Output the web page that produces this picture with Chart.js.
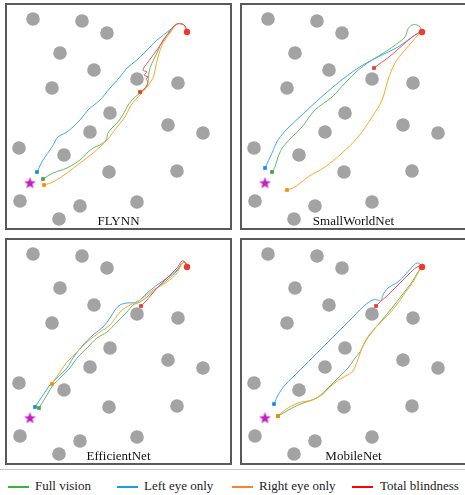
<!DOCTYPE html>
<html>
<head>
<meta charset="utf-8">
<script src="https://cdn.jsdelivr.net/npm/chart.js@4"></script>
<style>
  body { margin:0; background:#fff; width:465px; height:495px; overflow:hidden; position:relative; }
  .frame { position:absolute; width:223px; height:223px; border:2px solid #5a5a5a; }
  .frame canvas { display:block; }
  .sep { position:absolute; left:0; top:469px; width:465px; height:1px; background:#c8c8c8; }
  .lg { position:absolute; top:478px; font:13px/16px "Liberation Serif", serif; color:#222; white-space:nowrap; }
  .lg i { position:absolute; top:8px; height:1.5px; }
</style>
</head>
<body>
<div class="frame" style="left:5px;top:3px"><canvas id="p0" width="223" height="223"></canvas></div>
<div class="frame" style="left:240px;top:3px"><canvas id="p1" width="223" height="223"></canvas></div>
<div class="frame" style="left:5px;top:238px"><canvas id="p2" width="223" height="223"></canvas></div>
<div class="frame" style="left:240px;top:238px"><canvas id="p3" width="223" height="223"></canvas></div>
<div class="sep"></div>
<div id="legend"></div>
<script>
// ---- data (arena units, y grows downward) ----
const models = ['FLYNN', 'SmallWorldNet', 'EfficientNet', 'MobileNet'];
const conditions = ['Full vision', 'Left eye only', 'Right eye only', 'Total blindness'];

const obstacleX = [27, 76, 101, 54, 88, 46, 131, 172, 104, 162, 197, 84, 13, 58, 103, 171, 14, 74, 131, 53];
const obstacleY = [15, 17, 29, 49, 66, 84, 75, 79, 109, 121, 129, 128, 144, 151, 168, 167, 197, 202, 198, 215];
const startPos = [181, 28];
const goalPos = [24, 179];

const flynnFull = [[181,28],[179,22],[176,20],[171,20],[164,28],[157,36],[151,49],[146,59],[143,68],[142,78],[139,85],[134,89],[126,96],[121,103],[118,109],[112,118],[106,124],[102,129],[100,136],[94,141],[87,144],[81,149],[74,156],[61,164],[47,169],[37,175]];
const flynnLeft = [[181,28],[179,22],[176,20],[171,20],[164,26],[151,36],[141,46],[131,56],[121,64],[114,73],[104,84],[94,96],[82,106],[74,116],[61,128],[52,133],[46,143],[37,156],[31,168]];
const flynnRight = [[181,28],[179,22],[176,20],[171,20],[164,29],[157,39],[152,53],[149,66],[147,74],[141,83],[131,94],[124,103],[119,113],[111,123],[101,136],[87,149],[74,159],[61,169],[47,178],[38,181]];
const flynnBlind = [[181,28],[179,22],[176,20],[171,20],[167,23],[161,31],[151,46],[142,58],[137,66],[141,68],[138,71],[142,73],[140,75],[142,78],[139,84],[134,88]];

const swnFull = [[181,28],[179,23],[176,21],[171,21],[167,25],[164,33],[157,39],[144,48],[131,56],[121,63],[114,69],[104,79],[91,93],[74,106],[61,123],[51,133],[42,143],[37,153],[34,163],[31,168]];
const swnLeft = [[181,28],[177,29],[167,36],[157,43],[137,53],[117,64],[97,79],[77,96],[61,111],[47,124],[37,136],[31,149],[24,164]];
const swnRight = [[181,28],[177,31],[171,38],[164,46],[154,59],[147,76],[141,96],[131,113],[117,133],[101,149],[84,163],[67,173],[54,183],[46,186]];
const swnBlind = [[181,28],[174,31],[164,39],[154,48],[144,56],[137,61],[133,64]];

const effFull = [[181,28],[180,24],[177,23],[171,32],[161,41],[151,49],[141,58],[134,63],[127,66],[121,73],[111,83],[101,93],[91,99],[81,109],[71,119],[64,129],[54,139],[47,146],[41,156],[33,169]];
const effLeft = [[181,28],[180,24],[177,23],[171,31],[161,39],[151,46],[141,54],[131,63],[121,64],[114,66],[109,71],[104,79],[97,88],[87,96],[77,106],[67,119],[61,129],[51,139],[44,146],[37,156],[29,168]];
const effRight = [[181,28],[180,24],[177,23],[171,34],[161,43],[147,51],[134,61],[124,66],[114,73],[104,86],[94,93],[81,103],[71,113],[61,123],[54,133],[47,143],[46,145]];
const effBlind = [[181,28],[179,23],[176,22],[171,29],[161,39],[151,49],[141,61],[135,67]];

const mobFull = [[181,28],[177,33],[171,43],[161,56],[151,69],[141,81],[131,93],[124,103],[119,113],[114,119],[107,129],[97,139],[87,149],[77,158],[71,161],[57,166],[44,173],[37,177]];
const mobLeft = [[181,28],[179,25],[176,24],[171,28],[164,36],[157,43],[147,49],[142,56],[140,62],[137,61],[132,61],[124,66],[114,76],[104,86],[94,96],[84,106],[74,116],[61,129],[51,139],[44,146],[37,156],[33,165]];
const mobRight = [[181,28],[177,34],[172,43],[164,54],[154,68],[144,79],[134,89],[126,99],[121,109],[116,123],[111,133],[101,139],[91,146],[81,156],[71,161],[57,164],[44,171],[37,177]];
const mobBlind = [[181,28],[176,28],[167,36],[157,46],[147,56],[139,63],[135,67]];

const paths = [
  [flynnFull, flynnLeft, flynnRight, flynnBlind],
  [swnFull, swnLeft, swnRight, swnBlind],
  [effFull, effLeft, effRight, effBlind],
  [mobFull, mobLeft, mobRight, mobBlind]
];

// ---- styles ----
const lineCol = ['#66bb6a', '#42a5f5', '#ffa726', '#ef5350'];
const markCol = ['#43a047', '#1e88e5', '#fb8c00', '#e53935'];
const legendCol = ['#3cb43c', '#1e9be6', '#ff7f2a', '#ff0000'];

// filled star marker for the goal
const star = document.createElement('canvas');
star.width = star.height = 13;
(() => {
  const x = star.getContext('2d');
  x.fillStyle = '#c41ec4';
  x.beginPath();
  for (let i = 0; i < 10; i++) {
    const r = i % 2 ? 2.6 : 6.2, a = -Math.PI / 2 + i * Math.PI / 5;
    x.lineTo(6.5 + r * Math.cos(a), 6.8 + r * Math.sin(a));
  }
  x.closePath(); x.fill();
})();

const xy = arr => arr.map(([x, y]) => ({x, y}));

const nameLabel = {
  id: 'nameLabel',
  afterDatasetsDraw(chart, args, opts) {
    const {ctx, chartArea: a} = chart;
    ctx.save();
    ctx.font = '13px "Liberation Serif", serif';
    ctx.fillStyle = '#111';
    ctx.textAlign = 'center'; ctx.textBaseline = 'alphabetic';
    ctx.fillText(opts.text, (a.left + a.right) / 2, a.bottom - 3);
    ctx.restore();
  }
};

function draw() {
  models.forEach((name, p) => {
    const tracks = paths[p];
    const ds = [];
    ds.push({ data: obstacleX.map((x, i) => ({x, y: obstacleY[i]})), pointRadius: 6.8,
      backgroundColor: '#a3a3a3', borderWidth: 0, order: 3 });
    tracks.forEach((t, k) => ds.push({ data: xy(t), showLine: true, borderColor: lineCol[k],
      borderWidth: 1, pointRadius: 0, tension: 0.35, order: 2 - k * 0.1 }));
    ds.push({ data: tracks.map(t => ({x: t[t.length - 1][0], y: t[t.length - 1][1]})),
      pointStyle: 'rect', pointRadius: 2.6, backgroundColor: markCol, borderWidth: 0, order: 1 });
    ds.push({ data: [{x: startPos[0], y: startPos[1]}], pointRadius: 3.2,
      backgroundColor: '#f0392b', borderWidth: 0, order: 1 });
    ds.push({ data: [{x: goalPos[0], y: goalPos[1]}], pointStyle: star, order: 1 });

    new Chart(document.getElementById('p' + p), {
      type: 'scatter',
      data: { datasets: ds },
      options: {
        responsive: false, animation: false, events: [],
        layout: { padding: 0, autoPadding: false },
        scales: {
          x: { display: false, min: 1, max: 224 },
          y: { display: false, min: 1, max: 224, reverse: true }
        },
        plugins: { legend: { display: false }, tooltip: { enabled: false }, nameLabel: { text: name } }
      },
      plugins: [nameLabel]
    });
  });
}

// legend row
const lgX = [8, 117, 232, 352];
const lg = document.getElementById('legend');
conditions.forEach((c, k) => {
  const s = document.createElement('div');
  s.className = 'lg';
  s.style.left = lgX[k] + 'px';
  s.style.paddingLeft = (k === 3 ? 28 : 27) + 'px';
  s.innerHTML = `<i style="left:0;width:21px;background:${legendCol[k]}"></i>${c}`;
  lg.appendChild(s);
});

document.fonts.load('13px "Liberation Serif"').then(draw, draw);
</script>
</body>
</html>
